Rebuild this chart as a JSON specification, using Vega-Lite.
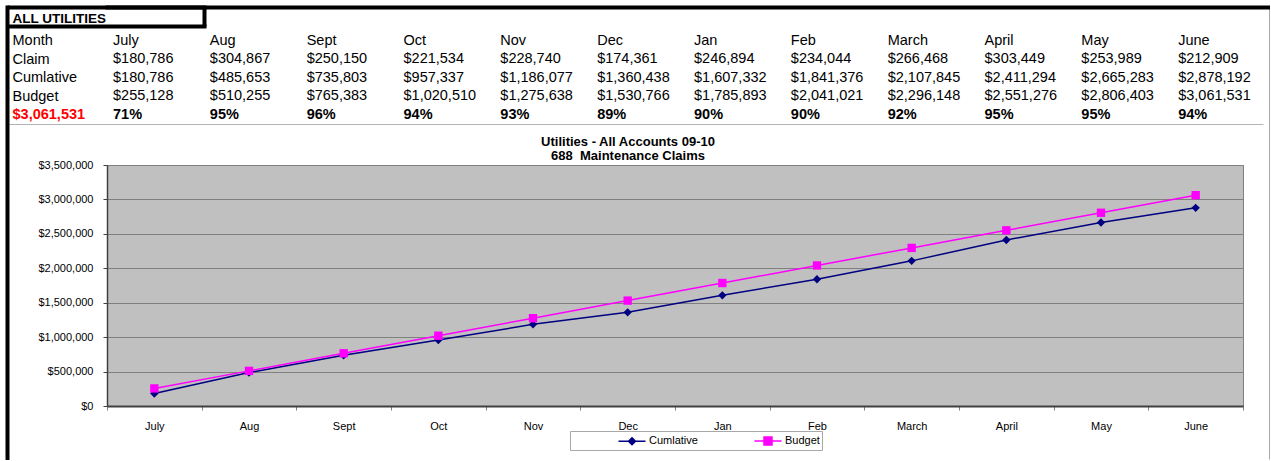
{
  "$schema": "https://vega.github.io/schema/vega-lite/v6.json",
  "background": "white",
  "padding": {"left": 5, "top": 5, "right": 0, "bottom": 0},
  "config": {"font": "Liberation Sans", "view": {"stroke": null}},
  "datasets": {
    "monthly": [
      {"month": "July", "Claim": 180786, "Cumlative": 180786, "Budget": 255128, "pct": 0.71},
      {"month": "Aug", "Claim": 304867, "Cumlative": 485653, "Budget": 510255, "pct": 0.95},
      {"month": "Sept", "Claim": 250150, "Cumlative": 735803, "Budget": 765383, "pct": 0.96},
      {"month": "Oct", "Claim": 221534, "Cumlative": 957337, "Budget": 1020510, "pct": 0.94},
      {"month": "Nov", "Claim": 228740, "Cumlative": 1186077, "Budget": 1275638, "pct": 0.93},
      {"month": "Dec", "Claim": 174361, "Cumlative": 1360438, "Budget": 1530766, "pct": 0.89},
      {"month": "Jan", "Claim": 246894, "Cumlative": 1607332, "Budget": 1785893, "pct": 0.90},
      {"month": "Feb", "Claim": 234044, "Cumlative": 1841376, "Budget": 2041021, "pct": 0.90},
      {"month": "March", "Claim": 266468, "Cumlative": 2107845, "Budget": 2296148, "pct": 0.92},
      {"month": "April", "Claim": 303449, "Cumlative": 2411294, "Budget": 2551276, "pct": 0.95},
      {"month": "May", "Claim": 253989, "Cumlative": 2665283, "Budget": 2806403, "pct": 0.95},
      {"month": "June", "Claim": 212909, "Cumlative": 2878192, "Budget": 3061531, "pct": 0.94}
    ]
  },
  "columns": 1,
  "align": "none",
  "bounds": "full",
  "spacing": -325,
  "concat": [
    {
      "width": 1162,
      "height": 452,
      "data": {"name": "monthly"},
      "view": {"stroke": null, "fill": null},
      "encoding": {
        "x": {"field": "month", "type": "nominal", "sort": null, "bandPosition": 0}
      },
      "layer": [
        {
          "mark": {"type": "text", "align": "left", "baseline": "middle", "dx": 6, "fontSize": 14.5, "color": "black"},
          "encoding": {
            "x": {
              "field": "month", "type": "nominal", "sort": null, "bandPosition": 0,
              "scale": {"type": "band", "domain": ["July", "Aug", "Sept", "Oct", "Nov", "Dec", "Jan", "Feb", "March", "April", "May", "June"], "paddingInner": 0, "paddingOuter": 0},
              "axis": {
                "orient": "top", "title": null, "labels": false, "grid": false,
                "domain": true, "domainColor": "black", "domainWidth": 4, "domainCap": "square",
                "ticks": true, "tickBand": "extent",
                "tickSize": {"expr": "datum.value === 'July' ? -19 : (datum.value === 'June' ? -452 : 0)"},
                "tickColor": {"expr": "datum.value === 'July' ? 'black' : '#a8a8a8'"},
                "tickWidth": {"expr": "datum.value === 'July' ? 4 : 1"}
              }
            },
            "y": {
              "datum": 1, "type": "quantitative",
              "scale": {"domain": [-0.842, 23.656], "reverse": true, "nice": false, "zero": false},
              "axis": {
                "orient": "left", "title": null, "offset": 100, "grid": false,
                "values": [-0.842, -0.192, 0.17, 1, 2, 3, 4, 5, 5.5],
                "labelExpr": "datum.value == -0.192 ? 'ALL UTILITIES' : datum.value == 1 ? 'Month' : datum.value == 2 ? 'Claim' : datum.value == 3 ? 'Cumlative' : datum.value == 4 ? 'Budget' : datum.value == 5 ? '$3,061,531' : ''",
                "domain": true, "domainColor": "black", "domainWidth": 4, "domainCap": "square",
                "ticks": true,
                "tickSize": {"expr": "datum.value == 5.5 ? -1256 : ((datum.value == -0.842 || datum.value == 0.17) ? -199 : 0)"},
                "tickColor": {"expr": "datum.value == 5.5 ? '#b4b4b4' : 'black'"},
                "tickWidth": {"expr": "datum.value == 5.5 ? 1 : 4"},
                "labelPadding": -5,
                "labelAlign": "left", "labelBaseline": "middle", "labelLimit": 0, "labelOverlap": false,
                "labelFlush": false, "labelBound": false,
                "labelFontSize": {"expr": "datum.value == -0.192 ? 13.5 : ((datum.value == -0.842 || datum.value == 0.17 || datum.value == 5.5) ? 0 : 14.5)"},
                "labelFontWeight": {"expr": "(datum.value == 5 || datum.value == -0.192) ? 'bold' : 'normal'"},
                "labelColor": {"expr": "datum.value == 5 ? '#ff0000' : 'black'"}
              }
            },
            "text": {"field": "month", "type": "nominal"}
          }
        },
        {
          "mark": {"type": "text", "align": "left", "baseline": "middle", "dx": 6, "fontSize": 14.5, "color": "black"},
          "encoding": {
            "y": {"datum": 2, "type": "quantitative"},
            "text": {"field": "Claim", "type": "quantitative", "format": "$,.0f"}
          }
        },
        {
          "mark": {"type": "text", "align": "left", "baseline": "middle", "dx": 6, "fontSize": 14.5, "color": "black"},
          "encoding": {
            "y": {"datum": 3, "type": "quantitative"},
            "text": {"field": "Cumlative", "type": "quantitative", "format": "$,.0f"}
          }
        },
        {
          "mark": {"type": "text", "align": "left", "baseline": "middle", "dx": 6, "fontSize": 14.5, "color": "black"},
          "encoding": {
            "y": {"datum": 4, "type": "quantitative"},
            "text": {"field": "Budget", "type": "quantitative", "format": "$,.0f"}
          }
        },
        {
          "mark": {"type": "text", "align": "left", "baseline": "middle", "dx": 6, "fontSize": 14.5, "fontWeight": "bold", "color": "black"},
          "encoding": {
            "y": {"datum": 5, "type": "quantitative"},
            "text": {"field": "pct", "type": "quantitative", "format": ".0%"}
          }
        }
      ]
    },
    {
      "width": 1136,
      "height": 241,
      "title": {
        "text": ["Utilities - All Accounts 09-10", "688\u00a0 Maintenance Claims"],
        "fontSize": 13, "fontWeight": "bold", "color": "black", "anchor": "middle", "frame": "group",
        "dx": -47, "offset": -4, "lineHeight": 14
      },
      "view": {"fill": "#c0c0c0", "stroke": "#808080", "strokeWidth": 1},
      "data": {"name": "monthly"},
      "transform": [{"fold": ["Cumlative", "Budget"], "as": ["series", "amount"]}],
      "encoding": {
        "x": {
          "field": "month", "type": "nominal", "sort": null,
          "scale": {"type": "band", "domain": ["July", "Aug", "Sept", "Oct", "Nov", "Dec", "Jan", "Feb", "March", "April", "May", "June"], "paddingInner": 0, "paddingOuter": 0},
          "axis": {
            "title": null, "labelAngle": 0, "labelFontSize": 11, "labelColor": "black",
            "tickBand": "extent", "tickSize": 4, "tickColor": "#808080",
            "domainColor": "#404040", "domainWidth": 2, "labelPadding": 10, "grid": false
          }
        },
        "y": {
          "field": "amount", "type": "quantitative",
          "scale": {"domain": [0, 3500000], "nice": false},
          "axis": {
            "title": null, "values": [0, 500000, 1000000, 1500000, 2000000, 2500000, 3000000, 3500000],
            "format": "$,.0f", "labelFontSize": 11, "labelColor": "black",
            "tickSize": 4, "tickColor": "#404040", "domainColor": "#404040", "domainWidth": 1.5,
            "labelPadding": 10, "grid": true, "gridColor": "#808080", "gridWidth": 1
          }
        },
        "color": {
          "field": "series", "type": "nominal",
          "scale": {"domain": ["Cumlative", "Budget"], "range": ["#000080", "#ff00ff"]},
          "legend": {
            "orient": "none", "legendX": 463, "legendY": 424, "direction": "horizontal",
            "columns": 2, "gridAlign": "all",
            "title": " ", "titleOrient": "left", "titlePadding": 52,
            "fillColor": "white", "strokeColor": "#a8a8a8", "padding": 2,
            "labelFontSize": 11, "labelColor": "black", "labelOffset": 9,
            "symbolSize": 196, "columnPadding": 53, "symbolStrokeWidth": 1.5,
            "encode": {
              "symbols": {
                "update": {
                  "shape": {"signal": "datum.value === 'Budget' ? 'M-1.93,0H1.93M-0.57,-0.57H0.57V0.57H-0.57Z' : 'M-1.93,0H1.93M0,-0.5L0.5,0L0,0.5L-0.5,0Z'"},
                  "fill": {"signal": "datum.value === 'Budget' ? '#ff00ff' : '#000080'"},
                  "stroke": {"signal": "datum.value === 'Budget' ? '#ff00ff' : '#000080'"},
                  "strokeWidth": {"value": 1.5},
                  "opacity": {"value": 1}
                }
              }
            }
          }
        }
      },
      "layer": [
        {"mark": {"type": "line", "strokeWidth": 1.5}},
        {
          "transform": [{"filter": "datum.series === 'Cumlative'"}],
          "mark": {"type": "point", "shape": "diamond", "filled": true, "size": 70, "opacity": 1}
        },
        {
          "transform": [{"filter": "datum.series === 'Budget'"}],
          "mark": {"type": "point", "shape": "square", "filled": true, "size": 70, "opacity": 1}
        }
      ]
    }
  ]
}
